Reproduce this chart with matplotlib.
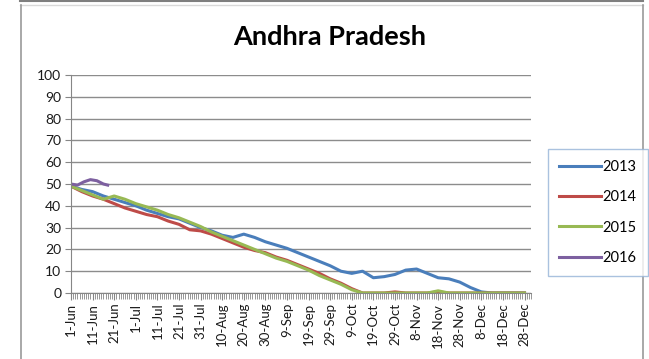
import numpy as np
import matplotlib.pyplot as plt
from matplotlib.lines import Line2D

# day index counted from 1-Jun, sampled every 5 days
days = list(range(0, 215, 5))

y2013 = [49, 47.5, 46.5, 44.5, 43, 41.5, 40, 38, 36.5, 35, 34, 32, 30, 28.5, 26.5,
         25.5, 27, 25.5, 23.5, 22, 20.5, 18.5, 16.5, 14.5, 12.5, 10, 9, 10, 7, 7.5,
         8.5, 10.5, 11, 9, 7, 6.5, 5, 2.5, 0.5, 0, 0, 0, 0]
y2014 = [49, 46.5, 44.5, 43, 41, 39, 37.5, 36, 35, 33, 31.5, 29, 28.5, 27, 25,
         23, 21, 19.5, 18.5, 16.5, 15, 13, 11, 9, 6.5, 4.5, 2, 0, 0, 0,
         0.5, 0, 0, 0, 0.5, 0, 0, 0, 0, 0, 0, 0, 0]
y2015 = [49, 47, 45, 43, 44.5, 43, 41, 39.5, 38, 36, 34.5, 32.5, 30.5, 28, 26,
         24, 22, 20, 18, 16, 14.5, 12.5, 10.5, 8, 6, 4, 1.5, 0, 0, 0,
         0, 0, 0, 0, 1, 0, 0, 0, 0, 0, 0, 0, 0]

days2016 = [0, 3, 6, 9, 12, 15, 17]
y2016 = [50, 49.5, 51, 52, 51.5, 50, 49.5]

xlabels = ['1-Jun', '11-Jun', '21-Jun', '1-Jul', '11-Jul', '21-Jul', '31-Jul',
           '10-Aug', '20-Aug', '30-Aug', '9-Sep', '19-Sep', '29-Sep', '9-Oct',
           '19-Oct', '29-Oct', '8-Nov', '18-Nov', '28-Nov', '8-Dec', '18-Dec',
           '28-Dec']
ndays = 214

colors = {'2013': '#4A7EBB', '2014': '#BE4B48', '2015': '#98B954', '2016': '#7D60A0'}

plt.rcParams['font.family'] = ['Lato', 'DejaVu Sans']

fig = plt.figure(figsize=(6.49, 3.59), dpi=100)
ax = fig.add_axes([71 / 649, 1 - 293 / 359, 460 / 649, 218 / 359])

ax.plot(days, y2013, color=colors['2013'], lw=2.2, label='2013')
ax.plot(days, y2014, color=colors['2014'], lw=2.2, label='2014')
ax.plot(days, y2015, color=colors['2015'], lw=2.2, label='2015')
ax.plot(days2016, y2016, color=colors['2016'], lw=2.2, label='2016')

ax.set_xlim(0, ndays - 1)
ax.set_ylim(0, 100)
ax.set_yticks(range(0, 101, 10))
ax.set_xticks(range(0, 10 * len(xlabels), 10))
ax.set_xticklabels(xlabels, rotation=90)
ax.set_xticks(range(ndays), minor=True)
ax.tick_params(axis='x', which='major', length=5, color='#868686', labelsize=9.5,
               pad=2, labelcolor='#1a1a1a')
ax.tick_params(axis='x', which='minor', length=4, color='#868686')
ax.tick_params(axis='y', length=4, color='#868686', labelsize=10, pad=3,
               labelcolor='#1a1a1a')
ax.grid(axis='y', color='#8C8C8C', lw=1)
ax.set_axisbelow(True)
for side in ['top', 'right']:
    ax.spines[side].set_visible(False)
for side in ['left', 'bottom']:
    ax.spines[side].set_color('#868686')

fig.text(330 / 649, 1 - 37 / 359, 'Andhra Pradesh', ha='center', va='center',
         fontsize=19.5, fontweight='bold')

handles = [Line2D([], [], color=colors[k], lw=2.2) for k in colors]
leg = fig.legend(handles, list(colors), loc='upper left',
                 bbox_to_anchor=(548 / 649, 1 - 149 / 359), frameon=True,
                 fancybox=False, fontsize=10.5, handlelength=2.9, handletextpad=0.1,
                 labelspacing=1.12, borderpad=0.75, borderaxespad=0)
leg.get_frame().set_edgecolor('#95B3D7')
leg.get_frame().set_linewidth(1)

# frame lines around the chart
fig.add_artist(Line2D([20 / 649, 643 / 649], [1 - 1 / 359, 1 - 1 / 359], color='#7F7F7F', lw=1.5))
fig.add_artist(Line2D([20 / 649, 643 / 649], [1 - 5 / 359, 1 - 5 / 359], color='#D9D9D9', lw=1))
fig.add_artist(Line2D([20.5 / 649, 20.5 / 649], [0, 1 - 5 / 359], color='#9A9A9A', lw=1.2))
fig.add_artist(Line2D([642.5 / 649, 642.5 / 649], [0, 1 - 5 / 359], color='#9A9A9A', lw=1.2))

fig.savefig('out.png', dpi=100)
